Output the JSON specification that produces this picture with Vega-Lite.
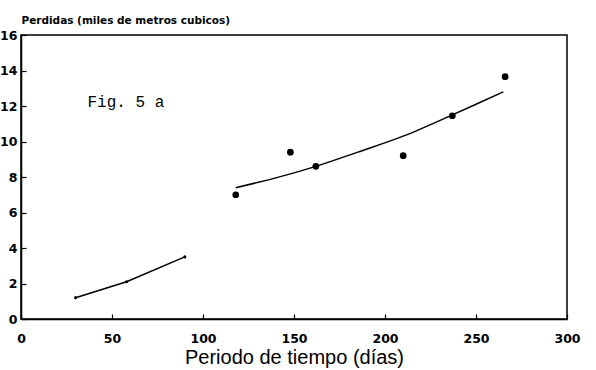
{
  "$schema": "https://vega.github.io/schema/vega-lite/v6.json",
  "width": 546,
  "height": 284,
  "autosize": "none",
  "padding": {"left": 21, "top": 35, "right": 29, "bottom": 51},
  "background": "white",
  "config": {
    "view": {"stroke": "black", "strokeWidth": 1.5},
    "axis": {
      "domain": true, "domainColor": "black", "domainWidth": 1.5,
      "ticks": true, "tickColor": "black", "tickSize": -5, "tickWidth": 1.2,
      "grid": false, "labelFlush": false,
      "labelFont": "DejaVu Sans", "labelFontWeight": "bold", "labelFontSize": 12.5, "labelColor": "black",
      "titleFont": "Liberation Sans", "titleColor": "black"
    }
  },
  "datasets": {
    "seg1": [
      {"dia": 30, "perdida": 1.2},
      {"dia": 58, "perdida": 2.1},
      {"dia": 90, "perdida": 3.5}
    ],
    "fit": [
      {"dia": 118, "perdida": 7.4},
      {"dia": 140, "perdida": 7.95},
      {"dia": 162, "perdida": 8.6},
      {"dia": 185, "perdida": 9.4},
      {"dia": 210, "perdida": 10.3},
      {"dia": 237, "perdida": 11.5},
      {"dia": 250, "perdida": 12.1},
      {"dia": 265, "perdida": 12.8}
    ],
    "obs": [
      {"dia": 118, "perdida": 7.0},
      {"dia": 148, "perdida": 9.4},
      {"dia": 162, "perdida": 8.6},
      {"dia": 210, "perdida": 9.2},
      {"dia": 237, "perdida": 11.45},
      {"dia": 266, "perdida": 13.65}
    ],
    "fig": [{"dia": 36.5, "perdida": 12.2, "texto": "Fig. 5 a"}]
  },
  "encoding": {
    "x": {
      "field": "dia", "type": "quantitative",
      "scale": {"domain": [0, 300], "nice": false, "zero": false},
      "axis": {
        "values": [0, 50, 100, 150, 200, 250, 300],
        "labelPadding": 18,
        "title": "Periodo de tiempo (días)",
        "titleFontSize": 20, "titleFontWeight": "normal", "titlePadding": 3
      }
    },
    "y": {
      "field": "perdida", "type": "quantitative",
      "scale": {"domain": [0, 16], "nice": false},
      "axis": {
        "values": [0, 2, 4, 6, 8, 10, 12, 14, 16],
        "labelPadding": 9,
        "title": "Perdidas (miles de metros cubicos)",
        "titleFont": "DejaVu Sans",
        "titleAngle": 0, "titleAlign": "left", "titleBaseline": "bottom",
        "titleX": 0, "titleY": -10,
        "titleFontSize": 10.5, "titleFontWeight": "bold"
      }
    }
  },
  "layer": [
    {
      "data": {"name": "seg1"},
      "mark": {"type": "line", "color": "black", "strokeWidth": 1.5, "point": {"filled": true, "color": "black", "size": 10}}
    },
    {
      "data": {"name": "fit"},
      "mark": {"type": "line", "color": "black", "strokeWidth": 1.5, "interpolate": "monotone"}
    },
    {
      "data": {"name": "obs"},
      "mark": {"type": "point", "shape": "circle", "filled": true, "color": "black", "size": 45, "opacity": 1}
    },
    {
      "data": {"name": "fig"},
      "mark": {"type": "text", "align": "left", "baseline": "middle", "font": "Liberation Mono", "fontSize": 16, "color": "black"},
      "encoding": {"text": {"field": "texto"}}
    }
  ]
}
